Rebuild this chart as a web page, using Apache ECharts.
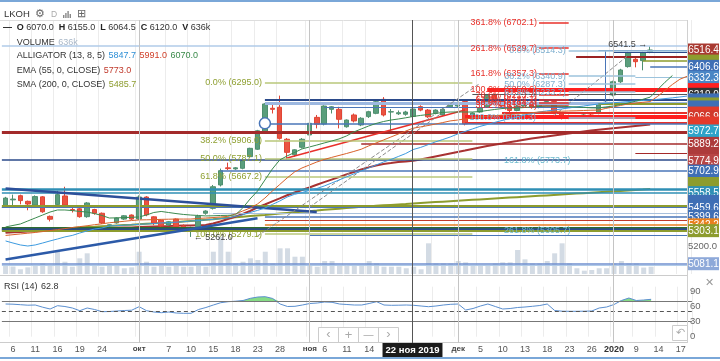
<!DOCTYPE html>
<html>
<head>
<meta charset="utf-8">
<script src="https://cdn.jsdelivr.net/npm/echarts@6.0.0/dist/echarts.min.js"></script>
<style>
html,body{margin:0;padding:0;background:#fff;}
#chart{width:720px;height:361px;}
</style>
</head>
<body>
<div id="chart"></div>
<script>
// ---------------- DATA ----------------
const dates = [
'2019-09-05','2019-09-06','2019-09-09','2019-09-10','2019-09-11','2019-09-12','2019-09-13',
'2019-09-16','2019-09-17','2019-09-18','2019-09-19','2019-09-20',
'2019-09-23','2019-09-24','2019-09-25','2019-09-26','2019-09-27','2019-09-30',
'2019-10-01','2019-10-02','2019-10-03','2019-10-04',
'2019-10-07','2019-10-08','2019-10-09','2019-10-10','2019-10-11',
'2019-10-14','2019-10-15','2019-10-16','2019-10-17','2019-10-18',
'2019-10-21','2019-10-22','2019-10-23','2019-10-24','2019-10-25',
'2019-10-28','2019-10-29','2019-10-30','2019-10-31','2019-11-01',
'2019-11-05','2019-11-06','2019-11-07','2019-11-08',
'2019-11-11','2019-11-12','2019-11-13','2019-11-14','2019-11-15',
'2019-11-18','2019-11-19','2019-11-20','2019-11-21','2019-11-22',
'2019-11-25','2019-11-26','2019-11-27','2019-11-28','2019-11-29',
'2019-12-02','2019-12-03','2019-12-04','2019-12-05','2019-12-06',
'2019-12-09','2019-12-10','2019-12-11','2019-12-12','2019-12-13',
'2019-12-16','2019-12-17','2019-12-18','2019-12-19','2019-12-20',
'2019-12-23','2019-12-24','2019-12-25','2019-12-26','2019-12-27',
'2019-12-30','2020-01-03','2020-01-06','2020-01-08','2020-01-09','2020-01-10',
'2020-01-13','2020-01-14','2020-01-15','2020-01-16','2020-01-17','2020-01-20'];

const openP = [
5469,5510,5538,5500,5475,5530,5399,5478,5536,5445,
5450,5397,5445,5420,5340,5355,5381,5408,5381,5529,
5396,5374,5341,5381,5335,5312,5330,5420,5453,5610,
5725,5718,5722,5800,5850,5968,6125,6132,5917,5813,
5863,5946,6064,6019,6118,6118,6001,6080,6013,6069,
6091,6185,6100,6088,6085,6070,6136,6113,6091,6080,
6135,6140,6170,6066,6100,6134,6214,6170,6140,6110,
6140,6165,6130,6150,6170,6090,6060,6075,6065,6080,
6091,6175,6214,6303,6405,6454,6445,6505];
const closeP = [
5522,5515,5505,5482,5532,5430,5380,5545,5475,5440,
5397,5489,5420,5355,5342,5388,5403,5381,5529,5410,
5354,5334,5363,5330,5315,5320,5400,5435,5598,5706,
5720,5725,5773,5856,5974,6154,6118,5923,5829,5846,
5917,6024,6018,6140,6135,6051,6046,6040,6058,6102,
6169,6080,6102,6095,6100,6120,6113,6068,6113,6118,
6147,6160,6020,6093,6125,6214,6170,6140,6110,6140,
6165,6130,6150,6170,6090,6060,6075,6065,6080,6070,
6147,6183,6303,6382,6498,6438,6498,6516.4];
const lowP = [
5460,5475,5480,5440,5470,5423,5365,5470,5460,5425,
5390,5390,5410,5348,5305,5350,5375,5375,5375,5400,
5340,5320,5335,5296,5300,5261,5320,5410,5445,5600,
5710,5712,5715,5795,5845,5960,6090,5915,5780,5800,
5855,5940,5990,6010,6090,5990,5995,6030,6005,6060,
6085,6070,5970,6080,6075,6064.5,6105,6060,6085,6075,
6128,6130,6010,6060,6095,6130,6165,6130,6100,6105,
6135,6122,6125,6145,6085,6050,6052,6058,6060,6065,
6085,6168,6205,6295,6398,6400,6380,6495];
const highP = [
5530,5545,5545,5505,5540,5535,5405,5571,5598,5460,
5460,5495,5450,5425,5345,5392,5408,5412,5540,5535,
5400,5378,5368,5385,5345,5330,5410,5440,5610,5720,
5760,5730,5780,5860,5980,6160,6150,6210,5925,5850,
5925,6030,6080,6145,6140,6135,6050,6090,6065,6108,
6175,6200,6120,6110,6108,6155,6145,6120,6118,6125,
6152,6170,6185,6098,6130,6220,6225,6178,6150,6148,
6172,6170,6158,6178,6175,6098,6082,6080,6085,6088,
6152,6190,6310,6390,6505,6470,6505,6541.5];
// volume, thousands
const volume = [
700,650,410,580,780,930,780,1940,1070,635,
1365,1800,780,635,780,700,500,580,1940,1070,
635,780,635,700,635,635,780,635,1940,3245,
1940,930,1070,1365,1220,1940,930,2235,2235,1505,
1505,780,635,1130,1130,700,780,700,800,1130,
930,635,635,635,500,636,410,2670,930,930,
930,1130,1015,720,720,720,930,1015,1015,2090,
1275,930,930,1130,1800,2670,930,500,290,350,
500,500,930,1130,930,930,560,635];
// Alligator (13,8,5)
const jaw = [
5234,5220,5207,5200,5207,5220,5234,5247,5261,5271,
5287,5301,5314,5321,5334,5337,5340,5342,5346,5348,
5351,5355,5357,5360,5363,5368,5371,5375,5379,5384,
5388,5398,5410,5425,5439,5455,5479,5502,5529,5547,
5559,5573,5586,5603,5623,5643,5664,5684,5704,5724,
5744,5764,5781,5801,5821,5847.7,5862,5880,5899,5915,
5932,5952,5969,5986,6003,6016,6030,6043,6056,6066,
6080,6090,6100,6107,6113,6120,6127,6134,6140,6147,
6154,6158,6162,6166,6170,6174,6177,6181,6185,6190,
6195,6201,6207];
const teeth = [
5271,5276,5281,5286,5291,5297,5304,5310,5317,5324,
5330,5336,5343,5349,5356,5361,5366,5371,5375,5376,
5377,5379,5380,5381,5381,5381,5385,5388,5391,5395,
5399,5415,5435,5455,5482,5522,5569,5613,5657,5697,
5724,5744,5764,5781,5795,5808,5821,5835,5850,5872,
5892,5912,5932,5952,5972,5991.0,6000,6009,6019,6029,
6040,6046,6054,6060,6066,6070,6075,6079,6083,6088,
6091,6095,6100,6101,6103,6105,6107,6108,6110,6112,
6113,6124,6134,6144,6154,6160,6165,6170,6205,6245,
6285,6320,6340];
const lips = [
5328,5338,5348,5368,5388,5408,5428,5442,5442,5438,
5432,5428,5418,5405,5388,5389,5391,5393,5395,5408,
5425,5432,5425,5418,5412,5408,5405,5402,5403,5405,
5406,5408,5455,5516,5569,5643,5717,5778,5805,5828,
5852,5865,5878,5892,5905,5919,5939,5966,5986,6006,
6023,6036,6046,6053,6061,6070.0,6077,6083,6090,6097,
6100,6100,6100,6100,6103,6110,6117,6123,6127,6127,
6130,6134,6137,6140,6140,6139,6136,6134,6131,6128,
6127,6134,6140,6150,6160,6172,6185,6200,6250,6300,
6345];
const ema55 = [
5289,5292,5294,5297,5299,5302,5305,5307,5309,5310,
5312,5314,5316,5318,5320,5322,5324,5325,5327,5329,
5331,5333,5334,5336,5337,5338,5340,5341,5351,5365,
5381,5397,5415,5435,5459,5479,5500,5520,5541,5559,
5576,5593,5611,5629,5646,5663,5681,5697,5714,5728,
5741,5751,5757,5764,5768,5773.0,5781,5791,5801,5811,
5821,5831,5841,5852,5862,5872,5880,5888,5897,5905,
5914,5922,5929,5935,5942,5949,5956,5962,5969,5976,
5981,5986,5991,5996,6001,6006,6011,6016];
const sma200 = [
5296,5299,5302,5304,5307,5310,5313,5316,5318,5321,
5324,5327,5329,5332,5335,5338,5341,5343,5346,5349,
5352,5355,5357,5360,5364,5368,5372,5376,5380,5385,
5389,5393,5397,5401,5405,5409,5414,5418,5422,5426,
5430,5434,5438,5443,5447,5451,5455,5459,5463,5466,
5470,5473,5476,5479,5482,5485.7,5489,5492,5495,5498,
5501,5504,5507,5510,5513,5516,5519,5522,5525,5528,
5531,5534,5537,5540,5543,5546,5549,5552,5555,5558,
5561,5564,5567,5570,5573,5576,5579,5583];
const rsi14 = [
65.4,65,64,63,63.4,59,55.4,62,60.4,57.4,
52,57.4,54.4,50,50.4,51.4,52.4,53,60,52,
49.4,48,49.4,47.4,46.8,46.8,54.4,58.4,63.4,68,
70,71,72.4,76.8,79.4,80,76.4,65.4,60.4,60.8,
63.4,66.4,67.4,69.4,68.8,65.4,64.4,63.4,63.4,66.4,
70,63.4,62.8,63,63.4,62.8,61.4,60,61.4,63.4,
64.8,65.4,53.4,56.4,61.4,65.4,60.4,55.4,56.4,58.4,
59.4,60.8,62.4,65.4,52.4,51,50.8,50.8,51,51.4,
57.4,59.4,64.4,72.4,77.4,72.4,73.4,74.8];

const tickDates = ['2019-09-06','2019-09-11','2019-09-16','2019-09-19','2019-09-24','2019-10-01',
'2019-10-07','2019-10-10','2019-10-15','2019-10-18','2019-10-23','2019-10-28','2019-11-01',
'2019-11-06','2019-11-11','2019-11-14','2019-11-27','2019-12-02','2019-12-05','2019-12-10',
'2019-12-13','2019-12-18','2019-12-23','2019-12-26','2020-01-03','2020-01-09','2020-01-14','2020-01-17'];
const monthLabels = {'2019-10-01':'окт','2019-11-01':'ноя','2019-12-02':'дек','2020-01-03':'2020'};
const crossDate = '2019-11-22';

// drawn horizontal levels (prices)
const levelPrices = [6543,6516.4,6500,6469,6442,6406.6,6332.3,6250.6,6219.0,6181,6160,6154,6134,6093,6066.9,
6026,6024,5972.7,5962,5889.2,5821,5782,5702.9,5581,5558.5,5469,5459.6,5420,5399.6,5375,5342.2,
5320,5310,5303.1,5274,5081.1,5068];
// fibonacci levels
const fibOlive = [6295.0,5906.0,5787.1,5667.2,5279.1];
const fibOlivePct = ['0.0%','38.2%','50.0%','61.8%','100.0%'];
const fibRed = [6702.1,6529.7,6357.3,6250.6,6213.7,6184.7,6164.3,6143.9];
const fibRedPct = ['361.8%','261.8%','161.8%','100.0%','78.6%','61.8%','50.0%','38.2%'];
const fibBlue = [6514.3,6340.9,6287.3,6233.7,6060.3];
const fibBluePct = ['0.0%','38.2%','50.0%','61.8%','100.0%'];
const fibTeal = [5773.7,5305.7];
const fibTealPct = ['161.8%','261.8%'];
// right-side price tags
const tagPrices = [6516.4,6442,6406.6,6332.3,6250.6,6219.0,6181,6154,6134,6093,6066.9,6026,5972.7,5889.2,
5821,5774.9,5702.9,5620,5558.5,5500,5459.6,5399.6,5342.2,5303.1,5081.1];
const tagShowText = [1,0,1,1,0,1,0,0,0,0,1,0,1,1,0,1,1,0,1,0,1,1,1,1,1];
const markedHigh = 6541.5, markedLow = 5261.0;

// ---------------- STYLES (kept apart from data) ----------------
const levelStyle = [
['#b0cbe8',1.5,-1],['#4a76b8',1.2,80,92],['#2b4a8a',1,82,92],['#9b2222',2,77,92],['#8d9c2e',1.5,86,92],
['#4a76b8',1.5,87,92],['#9cc3dc',1,85,92],['#ff1f1f',4,65,92],['#555555',1,63,92],['#2b4a8a',2,35,92],['#9db8e0',3,35,92],
['#8d9c2e',2,80,92],['#4a76b8',1,43,92],['#e8302a',2,67,92],['#ff1f1f',4,62,92],['#e8302a',2,62,92],
['#4a76b8',1.5,35,92],['#3aa0c8',1,80,92],['#a32a2a',3,-1],['#a52a2a',1.5,48,92],['#a52a2a',1,85,92],
['#2b4a8a',1.5,-1],['#4a76b8',1.5,29,92],['#2f8fb5',2.5,-1],['#2f8fb5',1.5,-1],['#8d9c2e',3,-1],
['#4a76b8',1,-1],['#a8c0dc',1,28,92],['#4a76b8',1.5,35,92],['#c0392b',1,35,92],['#e67e22',1.5,35,92],
['#2e6b2e',3,-1],['#2b4a8a',2.5,-1],['#8d9c2e',2,-1],['#4a76b8',1,41,92],['#6f8fcf',1.5,-1],['#b0cbe8',1,-1]];
const tagColors = ['#a93a32','#8d9c2e','#3f6fb5','#4a86c5','#ff2020','#333333','#3f6fb5','#8d9c2e','#3f6fb5',
'#e33a2a','#d03a2c','#e33a2a','#2ea3c9','#ad3b3b','#ad3b3b','#b84545','#3f6fb5','#8d9c2e','#2f90b6',
'#3f6fb5','#3f6fb5','#3f6fb5','#e8801f','#8d9c2e','#8ea9d9'];

const FONT = '"Liberation Sans", Arial, sans-serif';
const tickSet = new Set(tickDates);
const ci = dates.indexOf(crossDate);
const n = openP.length;
const candleData = dates.map((d, k) => k < n ? [openP[k], closeP[k], lowP[k], highP[k]] : '-');

const gridL = 1.87, gridW = 690.06;

const levelLines = levelPrices.map((p, i) => {
  const s = levelStyle[i];
  const ls = {color: s[0], width: s[1], type: 'solid'};
  if (s[2] === -1) return {yAxis: p, lineStyle: ls};
  return [{coord: [s[2], p], lineStyle: ls}, {coord: [s[3], p]}];
});
const seg = (k0, p0, k1, p1, color, width, type) =>
  [{coord: [k0, p0], lineStyle: {color: color, width: width, type: type || 'solid'}}, {coord: [k1, p1]}];
const trendLines = [
  seg(0, 5587, 42, 5428, '#2c4f9a', 2.5),
  seg(0, 5109, 34, 5387, '#2c5aa8', 2.5),
  seg(38, 5791, 62, 6113, '#e8302a', 1.5),
  seg(34, 5267, 64, 6291, '#8a8a8a', 1, 'dashed'),
  seg(74, 6075, 84, 6479, '#8a8a8a', 1, 'dashed'),
  seg(41, 5460, 59, 6097, '#8a8a8a', 1, 'dashed'),
  seg(81, 6516.4, 81, 6167, '#4a76b8', 1)
];
const fibLines = [];
fibOlive.forEach(p => fibLines.push(seg(35, p, 63, p, '#b9c77a', 1.5)));
fibRed.forEach((p, i) => { if (i !== 3) fibLines.push(seg(72, p, 76, p, '#e8302a', 1.5)); });
fibBlue.forEach((p, i) => fibLines.push(seg(76, p, i === 0 ? 92 : 85, p, '#9cc3dc', 1.5)));

const nulls = dates.map(() => '-');
const lineS = (name, data, color, width, z) => ({
  name: name, type: 'line', data: data, xAxisIndex: 0, yAxisIndex: 0, showSymbol: false, symbol: 'none',
  lineStyle: {color: color, width: width}, silent: true, z: z || 5
});

const option = {
  animation: false,
  backgroundColor: '#ffffff',
  textStyle: {fontFamily: FONT},
  grid: [
    {left: gridL, width: gridW, top: 20, height: 254},
    {left: gridL, width: gridW, top: 200, height: 74},
    {left: gridL, width: gridW, top: 286.7, height: 50}
  ],
  xAxis: [0, 1, 2].map(g => ({
    type: 'category', data: dates, gridIndex: g, boundaryGap: true,
    axisLine: {show: false}, axisTick: {show: false},
    axisLabel: g === 2 ? {
      show: true, interval: (i, v) => tickSet.has(v), color: '#555', fontSize: 9, margin: 8,
      formatter: v => monthLabels[v] ? (monthLabels[v] === '2020' ? '{y|2020}' : '{m|' + monthLabels[v] + '}') : String(parseInt(v.slice(8), 10)),
      rich: {m: {fontSize: 8, fontWeight: 'bold', color: '#444'}, y: {fontSize: 9, fontWeight: 'bold', color: '#333'}}
    } : {show: false},
    splitLine: {show: g !== 1, interval: (i, v) => tickSet.has(v), lineStyle: {color: '#ececec', width: 1}}
  })),
  yAxis: [
    {gridIndex: 0, type: 'value', min: 5012.0, max: 6717.9, position: 'right',
      splitLine: {show: false}, axisLine: {show: false}, axisTick: {show: false},
      axisLabel: {customValues: [5200], formatter: v => v.toFixed(1), color: '#666', fontSize: 9.5, margin: -3}},
    {gridIndex: 1, type: 'value', min: 0, max: 6440, show: false},
    {gridIndex: 2, type: 'value', min: 0, max: 100, position: 'right',
      splitLine: {show: false}, axisLine: {show: false}, axisTick: {show: false},
      axisLabel: {customValues: [0, 30, 60, 90], color: '#666', fontSize: 9.5, margin: -2}}
  ],
  series: [
    {name: 'vol', type: 'bar', xAxisIndex: 1, yAxisIndex: 1, data: volume, barWidth: 5,
      itemStyle: {color: '#d3dbe4'}, silent: true, z: 1},
    {name: 'levels', type: 'line', xAxisIndex: 0, yAxisIndex: 0, data: nulls, silent: true, z: 2,
      markLine: {symbol: ['none', 'none'], silent: true, label: {show: false}, animation: false,
        data: levelLines.concat(trendLines)},
      markPoint: {silent: true, label: {show: false}, animation: false,
        data: [{coord: [35, 6024], symbol: 'circle', symbolSize: 11,
          itemStyle: {color: '#ffffff', borderColor: '#4a76b8', borderWidth: 1.5}}]}},
    {name: 'fib', type: 'line', xAxisIndex: 0, yAxisIndex: 0, data: nulls, silent: true, z: 2,
      markLine: {symbol: ['none', 'none'], silent: true, label: {show: false}, animation: false, data: fibLines}},
    {name: 'LKOH', type: 'candlestick', xAxisIndex: 0, yAxisIndex: 0, data: candleData, barWidth: 5, silent: true, z: 4,
      itemStyle: {color: '#5a9e7c', color0: '#ea5341', borderColor: '#4f8f6f', borderColor0: '#e04535', borderWidth: 1}},
    lineS('sma', sma200, '#8d9c2e', 2, 3),
    lineS('ema', ema55, '#a83232', 2, 3),
    lineS('jaw', jaw, '#3d9be0', 1, 5),
    lineS('teeth', teeth, '#d9622b', 1, 5),
    lineS('lips', lips, '#3b8a4e', 1, 5),
    {name: 'rsiBase', type: 'line', xAxisIndex: 2, yAxisIndex: 2, stack: 'ob', data: rsi14.map(() => 70),
      showSymbol: false, lineStyle: {width: 0, opacity: 0}, silent: true, z: 2},
    {name: 'rsiOver', type: 'line', xAxisIndex: 2, yAxisIndex: 2, stack: 'ob', data: rsi14.map(v => v > 70 ? v - 70 : 0),
      showSymbol: false, lineStyle: {width: 0, opacity: 0}, areaStyle: {color: '#86dc86', opacity: 1}, silent: true, z: 2},
    {name: 'rsi', type: 'line', xAxisIndex: 2, yAxisIndex: 2, data: rsi14, showSymbol: false, symbol: 'none',
      lineStyle: {color: '#5b8fd0', width: 1}, silent: true, z: 4,
      markLine: {symbol: ['none', 'none'], silent: true, label: {show: false}, animation: false,
        data: [{yAxis: 70, lineStyle: {color: '#777', width: 1, type: 'solid'}},
               {yAxis: 50, lineStyle: {color: '#555', width: 1, type: [4, 3]}},
               {yAxis: 30, lineStyle: {color: '#777', width: 1, type: 'solid'}}]}}
  ]
};

const chart = echarts.init(document.getElementById('chart'));
chart.setOption(option);

// ---------------- OVERLAY GRAPHICS ----------------
const toPx = (k, p) => chart.convertToPixel({xAxisIndex: 0, yAxisIndex: 0}, [k, p]);
const G = [];
const fontStr = (size, bold) => (bold ? 'bold ' : '') + size + 'px ' + FONT;
const mctx = document.createElement('canvas').getContext('2d');
const measure = (t, size, bold) => { mctx.font = fontStr(size, bold); return mctx.measureText(t).width; };
const txt = (text, x, y, color, size, opts) => {
  opts = opts || {};
  G.push({type: 'text', z: opts.z || 50, silent: true, style: {
    text: text, x: x, y: y, fill: color, font: fontStr(size, opts.bold),
    align: opts.align || 'left', verticalAlign: 'middle'}});
};
const row = (x, y, parts, size) => {
  parts.forEach(p => {
    txt(p[0], x, y, p[1], size, {bold: p[2]});
    x += measure(p[0], size, p[2]) + (p[3] == null ? 3.5 : p[3]);
  });
};
const hline = (x1, x2, y, color, w) => G.push({type: 'line', silent: true, z: 40,
  shape: {x1: x1, y1: y, x2: x2, y2: y}, style: {stroke: color, lineWidth: w || 1}});
const vline = (x, y1, y2, color, w) => G.push({type: 'line', silent: true, z: 40,
  shape: {x1: x, y1: y1, x2: x, y2: y2}, style: {stroke: color, lineWidth: w || 1}});
const rect = (x, y, w, h, fill, stroke, z) => G.push({type: 'rect', silent: true, z: z || 45,
  shape: {x: x, y: y, width: w, height: h}, style: {fill: fill, stroke: stroke || null, lineWidth: 1}});

// outer frame & panels
rect(0, 0, 720, 2, '#7aa7d8');
rect(0, 357, 720, 2, '#7aa7d8');
hline(0, 687, 20.5, '#dddddd');
vline(687.5, 20, 343, '#d0d0d0');
hline(0, 687, 275.5, '#cccccc');
hline(0, 687, 342.5, '#cccccc');

// month separators and crosshair
Object.keys(monthLabels).forEach(d => {
  const x = Math.round(toPx(dates.indexOf(d), 6000)[0]) + 0.5;
  vline(x, 20, 343, '#c4c4c4');
});
const cx = Math.round(toPx(ci, 6000)[0]) - 0.5;
vline(cx, 20, 343, '#555555');
const mNames = ['янв','фев','мар','апр','мая','июн','июл','авг','сен','окт','ноя','дек'];
const cd = dates[ci];
const cLabel = parseInt(cd.slice(8), 10) + ' ' + mNames[parseInt(cd.slice(5, 7), 10) - 1] + ' ' + cd.slice(0, 4);
const cw = measure(cLabel, 9.5, true) + 6;
rect(cx - cw / 2, 343, cw, 14, '#1b1b1b', null, 60);
txt(cLabel, cx, 350.5, '#ffffff', 9.5, {bold: true, align: 'center', z: 61});

// fib texts
const xOf = k => toPx(k, 6000)[0];
const yOf = p => toPx(0, p)[1];
fibOlive.forEach((p, i) => txt(fibOlivePct[i] + ' (' + p.toFixed(1) + ')', xOf(35) - 3, yOf(p), '#8fa032', 9, {align: 'right'}));
fibRed.forEach((p, i) => txt(fibRedPct[i] + ' (' + p.toFixed(1) + ')', xOf(72) - 2, yOf(p), '#e8302a', 9, {align: 'right'}));
fibBlue.forEach((p, i) => txt(fibBluePct[i] + ' (' + p.toFixed(1) + ')', xOf(i === 4 ? 72 : 76) - 3, yOf(p), '#7fb0d0', 9, {align: 'right'}));
fibTeal.forEach((p, i) => txt(fibTealPct[i] + ' (' + p.toFixed(1) + ')', xOf(67) + 2, yOf(p), '#6bb8cc', 9));
txt(markedHigh.toFixed(1) + ' \u2192', xOf(87) - 3, yOf(markedHigh) - 2, '#444', 9, {align: 'right'});
txt('\u2190 ' + markedLow.toFixed(1), xOf(25) + 3, yOf(markedLow) + 1, '#444', 9);

// right price tags
tagPrices.forEach((p, i) => {
  const y = yOf(p);
  rect(688, y - 6.5, 31, 13, tagColors[i], null, 70 + i * 2);
  if (tagShowText[i]) txt(p.toFixed(1), 703.5, y + 0.5, '#ffffff', 10, {align: 'center', z: 71 + i * 2});
});

// legend block
const FS = 9;
txt('LKOH', 4, 14, '#333', 9.5);
txt('\u2699', 35, 14, '#666', 11);
txt('D', 51, 14.5, '#aaa', 8.5);
[3, 5, 7, 4].forEach((h, i) => rect(63 + i * 2.2, 18 - h, 1.4, h, '#888', null, 50));
txt('\u229E', 77, 14, '#666', 11);
const lc = '#222', lv = '#333';
txt('\u2014', 3, 27.5, '#222', 9, {bold: true});
row(16.7, 27.5, [
  ['O', lc, true, 2.5], [openP[ci].toFixed(1), lv, false, 5],
  ['H', lc, true, 2.5], [highP[ci].toFixed(1), lv, false, 5],
  ['L', lc, true, 2.5], [lowP[ci].toFixed(1), lv, false, 5],
  ['C', lc, true, 2.5], [closeP[ci].toFixed(1), lv, false, 5],
  ['V', lc, true, 2.5], [volume[ci] + 'k', lv, false]], FS);
row(16.7, 42.3, [['VOLUME', lv], [volume[ci] + 'k', '#a9b8c8']], FS);
row(16.7, 56, [['ALLIGATOR (13, 8, 5)', lv], [jaw[ci].toFixed(1), '#2e8fd6'],
  [teeth[ci].toFixed(1), '#d0402a'], [lips[ci].toFixed(1), '#3a8a4a']], FS);
row(16.7, 70.7, [['EMA (55, 0, CLOSE)', lv], [ema55[ci].toFixed(1), '#c0392b']], FS);
row(16.7, 84.7, [['SMA (200, 0, CLOSE)', lv], [sma200[ci].toFixed(1), '#8d9c2e']], FS);

// RSI panel texts
row(4, 287, [['RSI (14)', '#333'], [rsi14[ci].toFixed(1), '#333']], FS);
txt('\u2715', 709, 283, '#999', 11, {align: 'center'});

// navigation buttons
rect(318.5, 327.5, 80, 15, '#ffffff', '#cccccc', 55);
[338.5, 358.5, 378.5].forEach(x => G.push({type: 'line', silent: true, z: 56, shape: {x1: x, y1: 327.5, x2: x, y2: 342.5}, style: {stroke: '#cccccc', lineWidth: 1}}));
txt('\u2039', 328.5, 334.5, '#aaa', 13, {align: 'center', z: 57});
txt('+', 348.5, 335, '#aaa', 13, {align: 'center', z: 57});
txt('\u2014', 368.5, 335, '#aaa', 10, {align: 'center', z: 57});
txt('\u203A', 388.5, 334.5, '#aaa', 13, {align: 'center', z: 57});
rect(672.5, 325.5, 15, 15, '#ffffff', '#cccccc', 55);
txt('\u21B6', 680, 333, '#aaa', 11, {align: 'center', z: 57});

chart.setOption({graphic: {elements: G}});
</script>
</body>
</html>
